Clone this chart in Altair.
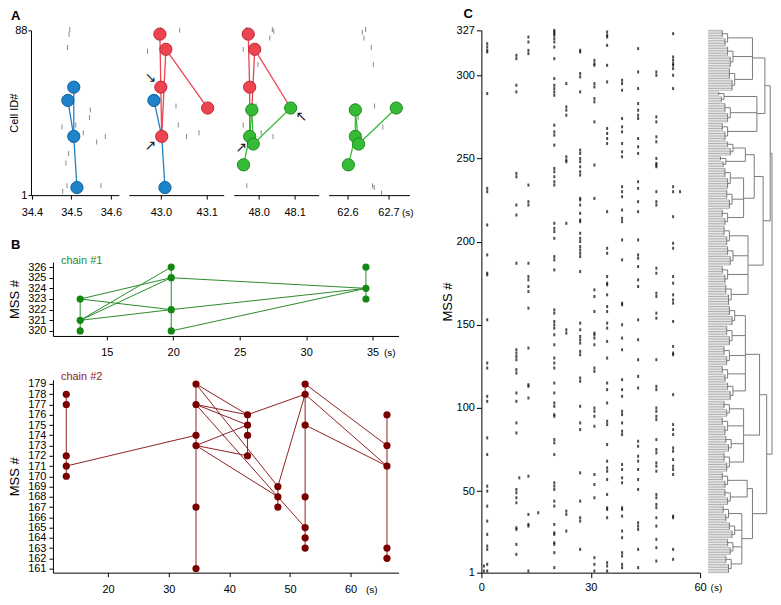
import altair as alt
import pandas as pd

FONT = "Liberation Sans"

# ---------------- Panel A : sequences in four short windows ----------------
a_pt_panel = [1, 1, 1, 1, 2, 2, 2, 2, 2, 2, 2, 3, 3, 3, 3, 3, 3, 3, 3, 4, 4, 4, 4, 4]
a_pt_group = (["blue"] * 4 + ["blue"] * 2 + ["red"] * 5 + ["red"] * 3 + ["green"] * 5 + ["green"] * 5)
a_pt_time = [34.506, 34.491, 34.506, 34.514,
             42.985, 43.009, 42.998, 43.011, 43.000, 43.102, 43.002,
             47.971, 47.989, 47.975, 47.981, 48.089, 47.975, 47.985, 47.958,
             62.619, 62.719, 62.619, 62.627, 62.602]
a_pt_cell = [58, 51, 32, 5,
             51, 5, 86, 78, 58, 47, 32,
             86, 78, 58, 46, 47, 32, 28, 17,
             46, 47, 32, 28, 17]

a_seg_panel = [1, 1, 1, 2, 2, 2, 2, 2, 2, 3, 3, 3, 3, 3, 3, 3, 3, 4, 4, 4, 4]
a_seg_group = (["blue"] * 3 + ["blue"] * 2 + ["red"] * 4 + ["red"] * 4 + ["green"] * 4 + ["green"] * 4)
a_seg_t1 = [34.506, 34.491, 34.506,
            42.985, 43.002, 42.998, 43.000, 43.011, 43.011,
            47.971, 47.975, 47.989, 47.989, 47.981, 47.981, 47.975, 47.985,
            62.619, 62.619, 62.619, 62.627]
a_seg_c1 = [58, 51, 32,
            51, 32, 86, 58, 78, 78,
            86, 58, 78, 78, 46, 46, 32, 28,
            46, 46, 32, 28]
a_seg_t2 = [34.506, 34.506, 34.514,
            43.002, 43.009, 43.000, 43.002, 43.102, 43.002,
            47.975, 47.975, 48.089, 47.981, 47.985, 47.975, 47.958, 48.089,
            62.627, 62.619, 62.602, 62.719]
a_seg_c2 = [32, 32, 5,
            32, 5, 58, 32, 47, 32,
            58, 32, 47, 46, 28, 32, 17, 47,
            28, 32, 17, 47]

a_tk_panel = [1] * 15 + [2] * 8 + [3] * 11 + [4] * 11
a_tk_time = [34.496, 34.494, 34.490, 34.548, 34.546, 34.476, 34.511, 34.530, 34.586, 34.564, 34.493, 34.486, 34.489, 34.575, 34.478,
             43.000, 43.041, 42.971, 43.033, 43.038, 43.056, 43.083, 43.005,
             47.967, 48.038, 48.042, 48.031, 47.957, 47.998, 47.993, 47.957, 48.007, 48.040, 47.967,
             62.636, 62.644, 62.640, 62.658, 62.663, 62.666, 62.626, 62.686, 62.661, 62.665, 62.683]
a_tk_cell = [88.5, 86, 79, 46, 42, 37, 38, 34, 32, 29, 23, 18, 6, 6, 3,
             88.5, 88, 77, 48, 38, 32, 34, 3,
             88.5, 88.5, 87.5, 84, 78, 70, 48, 38, 34, 32, 6,
             87, 88.5, 84, 79, 70, 48, 42, 37, 6, 5, 2]

a_ar_panel = [2, 2, 3, 3]
a_ar_time = [42.977, 42.977, 48.119, 47.951]
a_ar_cell = [63, 27, 42, 26]
a_ar_glyph = ["↘", "↗", "↖", "↗"]

a_domains = {1: [34.3975, 34.6203], 2: [42.9304, 43.1369], 3: [47.9306, 48.1667], 4: [62.5537, 62.7512]}
a_ticks = {1: [34.4, 34.5, 34.6], 2: [43.0, 43.1], 3: [48.0, 48.1], 4: [62.6, 62.7]}
a_widths = {1: 88, 2: 95, 3: 85, 4: 81}

# ---------------- Panel B : chains ----------------
c1_t = [13, 13, 13, 19.85, 19.85, 19.85, 19.85, 34.5, 34.5, 34.5]
c1_m = [323, 321, 320, 326, 325, 322, 320, 326, 324, 323]
c1_edges = [(13, 323, 19.85, 325), (13, 323, 19.85, 322), (13, 321, 19.85, 326),
            (13, 321, 19.85, 325), (13, 321, 19.85, 322), (19.85, 325, 34.5, 324),
            (19.85, 322, 34.5, 324), (19.85, 320, 34.5, 324)]

c2_t = ([13.1] * 5 + [34.5] * 6 + [43.0] * 4 + [48.0] * 3 + [52.5] * 7 + [66.0] * 5)
c2_m = [178, 177, 172, 171, 170,
        179, 177, 174, 173, 167, 161,
        176, 175, 174, 172,
        169, 168, 167,
        179, 178, 175, 168, 165, 164, 163,
        176, 173, 171, 163, 162]
c2_edges = [(13.1, 171, 34.5, 174), (34.5, 179, 43.0, 176), (34.5, 179, 48.0, 169),
            (34.5, 177, 43.0, 176), (34.5, 177, 43.0, 175), (34.5, 177, 52.5, 165),
            (34.5, 173, 43.0, 175), (34.5, 173, 43.0, 172), (34.5, 173, 48.0, 168),
            (43.0, 176, 52.5, 178), (48.0, 169, 52.5, 178), (52.5, 179, 66.0, 173),
            (52.5, 178, 66.0, 171), (52.5, 175, 66.0, 171)]

# ---------------- Panel C : raster of MSS activations ----------------
c_col_times = [1.6, 9.6, 12.9, 20.0, 23.3, 27.1, 31.0, 34.5, 38.6, 43.0, 48.0, 52.6]
c_col_mss = [
    [319, 317, 315, 314, 289, 232, 230, 210, 192, 181, 180, 153, 127, 124, 107, 104, 82, 72, 53, 50, 41, 32, 24, 17, 15, 6, 2],
    [312, 310, 294, 290, 241, 239, 222, 216, 187, 135, 133, 131, 129, 123, 121, 109, 104, 91, 85, 51, 49, 46, 43, 28, 27, 18, 12],
    [323, 320, 315, 313, 234, 224, 222, 187, 179, 177, 173, 170, 160, 136, 114, 113, 106, 59, 36, 30, 29, 2],
    [327, 326, 325, 324, 322, 320, 317, 310, 298, 294, 292, 290, 288, 270, 266, 264, 258, 244, 242, 239, 236, 234, 211,
     208, 206, 202, 191, 189, 183, 159, 157, 152, 150, 148, 144, 138, 130, 127, 124, 115, 109, 103, 101, 96, 95, 81, 79,
     72, 55, 53, 51, 44, 41, 30, 25, 24, 19, 18, 13, 4],
    [295, 281, 279, 276, 251, 249, 248, 211, 147, 145, 38, 36, 26],
    [315, 314, 301, 299, 290, 255, 253, 250, 248, 245, 242, 240, 226, 225, 222, 217, 213, 212, 205, 202, 200, 197, 195,
     193, 191, 182, 151, 147, 143, 141, 139, 134, 132, 118, 116, 101, 91, 87, 61, 44, 34, 32, 15],
    [309, 307, 306, 295, 293, 286, 284, 272, 246, 226, 171, 167, 158, 145, 144, 142, 138, 124, 122, 100, 98, 95, 89, 60,
     54, 46, 10, 6, 2],
    [326, 324, 323, 318, 306, 296, 268, 265, 262, 259, 218, 196, 193, 179, 175, 174, 168, 161, 158, 151, 148, 140, 130,
     115, 111, 103, 92, 90, 78, 68, 64, 62, 57, 48, 40, 39, 34, 7, 5, 2],
    [297, 295, 291, 274, 269, 266, 259, 254, 251, 233, 230, 227, 219, 214, 212, 201, 189, 163, 162, 150, 142, 135, 117,
     111, 107, 98, 96, 91, 86, 84, 66, 63, 58, 55, 40, 39, 35, 26, 22, 13, 11, 6, 4],
    [316, 302, 292, 283, 279, 276, 274, 262, 257, 253, 236, 232, 224, 218, 201, 192, 190, 185, 177, 173, 153, 141, 129,
     119, 112, 80, 77, 71, 68, 63, 57, 51, 31, 29, 27, 15, 4],
    [302, 300, 275, 272, 263, 260, 250, 247, 246, 245, 230, 224, 222, 184, 181, 169, 167, 157, 154, 129, 113, 111, 100,
     98, 95, 93, 81, 75, 73, 67, 65, 62, 48, 46, 42, 40, 34, 29, 21, 16, 8],
    [325, 311, 309, 307, 306, 304, 300, 292, 233, 230, 215, 199, 196, 179, 175, 168, 165, 163, 152, 137, 133, 132, 108,
     90, 87, 84, 76, 74, 69, 65, 63, 60, 35, 34, 15, 9],
]
c_extra_t = [0.7, 0.7, 10.4, 15.6, 54.5]
c_extra_m = [5, 2, 58, 37, 230]

# dendrogram structure (MSS ranges of first-level clusters, join heights)
dendro_l1 = [(318, 327, 22), (305, 317, 28), (291, 304, 30), (284, 290, 18), (272, 283, 25), (261, 271, 22),
             (252, 260, 28), (245, 251, 20), (232, 244, 25), (220, 231, 27), (210, 219, 22), (198, 209, 24),
             (186, 197, 28), (175, 185, 22), (162, 174, 26), (150, 161, 30), (138, 149, 27), (126, 137, 24),
             (116, 125, 22), (105, 115, 28), (95, 104, 24), (84, 94, 22), (74, 83, 26), (62, 73, 24),
             (52, 61, 22), (42, 51, 25), (32, 41, 23), (22, 31, 30), (12, 21, 28), (1, 11, 26)]
dendro_levels = [
    [([0, 1, 2], 50), ([3, 4, 5], 55), ([6, 7], 42), ([8, 9, 10], 40), ([11, 12, 13, 14], 45),
     ([15, 16, 17, 18, 19], 42), ([20, 21, 22, 23], 40), ([24, 25], 44), ([26, 27, 28, 29], 38)],
    [([0, 1], 64), ([2, 3], 52), ([4], 0), ([5, 6], 58), ([7, 8], 50)],
    [([0], 0), ([1, 2], 62), ([3, 4], 66)],
    [([0, 1], 70), ([2], 0)],
    [([0, 1], 72)],
]

# ---------------- build tables ----------------
A_FILL = {"blue": "#1f83c9", "red": "#ee4450", "green": "#35bb35"}
A_EDGE = {"blue": "#10609c", "red": "#b82a36", "green": "#1f8a1f"}

pts_df = pd.DataFrame({"p": a_pt_panel, "g": a_pt_group, "t": a_pt_time, "c": a_pt_cell})
seg_df = pd.DataFrame({"p": a_seg_panel, "g": a_seg_group, "t": a_seg_t1, "c": a_seg_c1, "t2": a_seg_t2, "c2": a_seg_c2})
tk_df = pd.DataFrame({"p": a_tk_panel, "t": a_tk_time, "c": a_tk_cell})
ar_df = pd.DataFrame({"p": a_ar_panel, "t": a_ar_time, "c": a_ar_cell, "s": a_ar_glyph})


def panel_letter(letter, xname, yname, xv, yv, x_enc, y_enc, dx, dy):
    return alt.Chart(pd.DataFrame({xname: [xv], yname: [yv], "s": [letter]})).mark_text(
        align="left", baseline="middle", dx=dx, dy=dy, fontSize=13, fontWeight="bold", color="black", font=FONT
    ).encode(x=x_enc, y=y_enc, text="s:N")


def a_sub(p):
    x_axis = alt.Axis(values=a_ticks[p], format=".1f", title=("(s)" if p == 4 else None), labelFlush=False,
                      tickSize=4, labelPadding=7, titleX=73, titleY=17, titleAlign="left", titleBaseline="middle",
                      titleFontSize=10, titleFontWeight="normal", titleAngle=0)
    x_enc = alt.X("t:Q", scale=alt.Scale(domain=a_domains[p], nice=False, zero=False), axis=x_axis)
    if p == 1:
        y_axis = alt.Axis(values=[1, 88], title="Cell ID#", tickSize=3, labelPadding=1, titleX=-11,
                          titleBaseline="bottom", labelFlush=False, titleFontSize=11, titleFontWeight="normal")
    else:
        y_axis = None
    y_enc = alt.Y("c:Q", scale=alt.Scale(domain=[1, 88], nice=False, zero=False), axis=y_axis)

    layers = [alt.Chart(tk_df[tk_df.p == p]).mark_tick(orient="vertical", size=5, thickness=1, color="#555555").encode(
        x=x_enc, y=y_enc)]
    for g in ["blue", "red", "green"]:
        sd = seg_df[(seg_df.p == p) & (seg_df.g == g)]
        if len(sd):
            layers.append(alt.Chart(sd).mark_rule(strokeWidth=1.3, color=A_FILL[g]).encode(
                x=x_enc, y=y_enc, x2="t2:Q", y2="c2:Q"))
    for g in ["blue", "red", "green"]:
        pd_ = pts_df[(pts_df.p == p) & (pts_df.g == g)]
        if len(pd_):
            layers.append(alt.Chart(pd_).mark_point(filled=True, size=150, opacity=1, strokeWidth=1,
                                                    fill=A_FILL[g], stroke=A_EDGE[g]).encode(x=x_enc, y=y_enc))
    sub_ar = ar_df[ar_df.p == p]
    if len(sub_ar):
        layers.append(alt.Chart(sub_ar).mark_text(font="DejaVu Sans", fontSize=14, color="#222222").encode(
            x=x_enc, y=y_enc, text="s:N"))
    if p == 1:
        layers.append(panel_letter("A", "t", "c", a_domains[1][0], 88, x_enc, y_enc, -20, -14))
    return alt.layer(*layers).properties(width=a_widths[p], height=165)


def chain_chart(ts, ms, edges, xdom, ydom, xvals, yvals, h, pcol, lcol, label, label_y, label_dy, s_x, letter=None):
    x_axis = alt.Axis(values=xvals, title="(s)", labelFlush=False, tickSize=4, labelPadding=7,
                      titleX=s_x, titleY=17, titleAlign="left", titleBaseline="middle", titleFontSize=10,
                      titleFontWeight="normal", titleAngle=0, labelFontSize=11)
    y_axis = alt.Axis(values=yvals, title="MSS #", tickSize=4, labelPadding=3, titlePadding=6,
                      labelOverlap=False, labelFlush=False, labelFontSize=11, titleFontSize=13,
                      titleFontWeight="normal")
    x_enc = alt.X("t:Q", scale=alt.Scale(domain=xdom, nice=False, zero=False), axis=x_axis)
    y_enc = alt.Y("m:Q", scale=alt.Scale(domain=ydom, nice=False, zero=False), axis=y_axis)
    nodes = pd.DataFrame({"t": ts, "m": ms})
    cols = nodes.groupby("t")["m"].agg(["min", "max"]).reset_index()
    vert = pd.DataFrame({"t": cols["t"], "m": cols["min"], "t2": cols["t"], "m2": cols["max"]})
    edf = pd.DataFrame(edges, columns=["t", "m", "t2", "m2"])
    lines = pd.concat([vert, edf], ignore_index=True)
    rl = alt.Chart(lines).mark_rule(color=lcol, strokeWidth=1).encode(x=x_enc, y=y_enc, x2="t2:Q", y2="m2:Q")
    pt = alt.Chart(nodes).mark_circle(color=pcol, size=52, opacity=1).encode(x=x_enc, y=y_enc)
    lab = alt.Chart(pd.DataFrame({"t": [xdom[0]], "m": [label_y], "s": [label]})
                    ).mark_text(align="left", baseline="middle", dx=8, dy=label_dy, fontSize=11, color=lcol, font=FONT
                                ).encode(x=x_enc, y=y_enc, text="s:N")
    layers = [rl, pt, lab]
    if letter:
        layers.append(panel_letter(letter, "t", "m", xdom[0], ydom[1], x_enc, y_enc, -42, -17))
    return alt.layer(*layers).properties(width=346, height=h)


def spacer(w, h):
    return alt.Chart(pd.DataFrame({"a": [0]})).mark_point(opacity=0).encode(
        x=alt.value(0), y=alt.value(0)).properties(width=w, height=h)


# raster table
rt, rm = [], []
for tt, col in zip(c_col_times, c_col_mss):
    for mm in col:
        rt.append(tt)
        rm.append(mm)
rt += c_extra_t
rm += c_extra_m
raster_df = pd.DataFrame({"t": rt, "m": rm})

C_H = 543
c_x = alt.X("t:Q", scale=alt.Scale(domain=[0, 60], nice=False, zero=False),
            axis=alt.Axis(values=[0, 30, 60], title="(s)", labelFlush=False, tickSize=5, labelPadding=4,
                          titleX=229, titleY=15, titleAlign="left", titleBaseline="middle", titleFontSize=10,
                          titleFontWeight="normal", titleAngle=0, labelFontSize=11))
c_y = alt.Y("m:Q", scale=alt.Scale(domain=[1, 327], nice=False, zero=False),
            axis=alt.Axis(values=[1, 50, 100, 150, 200, 250, 300, 327], title="MSS #", tickSize=5, labelPadding=2,
                          titlePadding=2, labelFlush=False, labelFontSize=11, titleFontSize=13,
                          titleFontWeight="normal"))
c_chart = alt.layer(
    alt.Chart(raster_df).mark_tick(orient="vertical", size=3, thickness=2, color="black").encode(x=c_x, y=c_y),
    panel_letter("C", "t", "m", 0, 327, c_x, c_y, -18, -16),
).properties(width=219, height=C_H)

# dendrogram segments
dsegs = []


def join(children, h):
    ys = [c for c, _ in children]
    for c, ch_h in children:
        dsegs.append({"x": ch_h, "x2": h, "y": c, "y2": c, "k": "inner"})
    dsegs.append({"x": h, "x2": h, "y": min(ys), "y2": max(ys), "k": "inner"})
    return (sum(ys) / len(ys), h)


nodes_lvl = []
for lo, hi, h in dendro_l1:
    rows = list(range(hi, lo - 1, -1))
    half = len(rows) // 2
    parts = [rows[:half], rows[half:]] if half > 0 else [rows]
    kids = []
    for j, part in enumerate(parts):
        hh = h - (6 if j == 0 else 3)
        for r in part:
            dsegs.append({"x": 0, "x2": hh, "y": r, "y2": r, "k": "leaf"})
        dsegs.append({"x": hh, "x2": hh, "y": min(part), "y2": max(part), "k": "inner"})
        kids.append((sum(part) / len(part), hh))
    nodes_lvl.append(join(kids, h))
for level in dendro_levels:
    nxt = []
    for idxs, h in level:
        if len(idxs) == 1:
            nxt.append(nodes_lvl[idxs[0]])
        else:
            nxt.append(join([nodes_lvl[i] for i in idxs], h))
    nodes_lvl = nxt
dendro_df = pd.DataFrame(dsegs)

d_x = alt.X("x:Q", scale=alt.Scale(domain=[0, 72], nice=False, zero=False), axis=None)
d_y = alt.Y("y:Q", scale=alt.Scale(domain=[1, 327], nice=False, zero=False), axis=None)
dendro = alt.layer(
    alt.Chart(dendro_df[dendro_df.k == "leaf"]).mark_rule(strokeWidth=1, color="#b0b0b0").encode(
        x=d_x, x2="x2:Q", y=d_y, y2="y2:Q"),
    alt.Chart(dendro_df[dendro_df.k == "inner"]).mark_rule(strokeWidth=1, color="#7a7a7a").encode(
        x=d_x, x2="x2:Q", y=d_y, y2="y2:Q"),
).properties(width=64, height=C_H)

# ---------------- assemble ----------------
b1 = chain_chart(c1_t, c1_m, c1_edges, [10.95, 36.95], [319.53, 326.47], [15, 20, 25, 30, 35],
                 list(range(320, 327)), 74, "#138813", "#2a8c2a", "chain #1", 326.47, -1, 331, letter="B")
b2 = chain_chart(c2_t, c2_m, c2_edges, [10.9, 67.9], [160.6, 179.4], [20, 30, 40, 50, 60],
                 list(range(161, 180)), 193, "#7a0000", "#8e2222", "chain #2", 179.4, -3, 313)

a_row = alt.hconcat(a_sub(1), a_sub(2), a_sub(3), a_sub(4), spacing=10, bounds="flush")
b1_row = alt.hconcat(spacer(22, 74), b1, spacing=0, bounds="flush")
b2_row = alt.hconcat(spacer(22, 193), b2, spacing=0, bounds="flush")
left = alt.vconcat(alt.vconcat(a_row, b1_row, spacing=22), b2_row, spacing=13)
right = alt.hconcat(c_chart, dendro, spacing=8, bounds="flush")

chart = alt.hconcat(left, right, spacing=27).properties(
    padding={"left": 0, "top": 0, "right": 0, "bottom": 0}
).configure(font=FONT).configure_view(stroke=None).configure_axis(
    grid=False, domainColor="black", tickColor="black", labelColor="black", titleColor="black",
    labelFont=FONT, titleFont=FONT, labelFontSize=11, domainWidth=1, tickWidth=1
).configure_title(font=FONT, color="black")

chart.save("out.html", embed_options={"renderer": "svg", "actions": False})
